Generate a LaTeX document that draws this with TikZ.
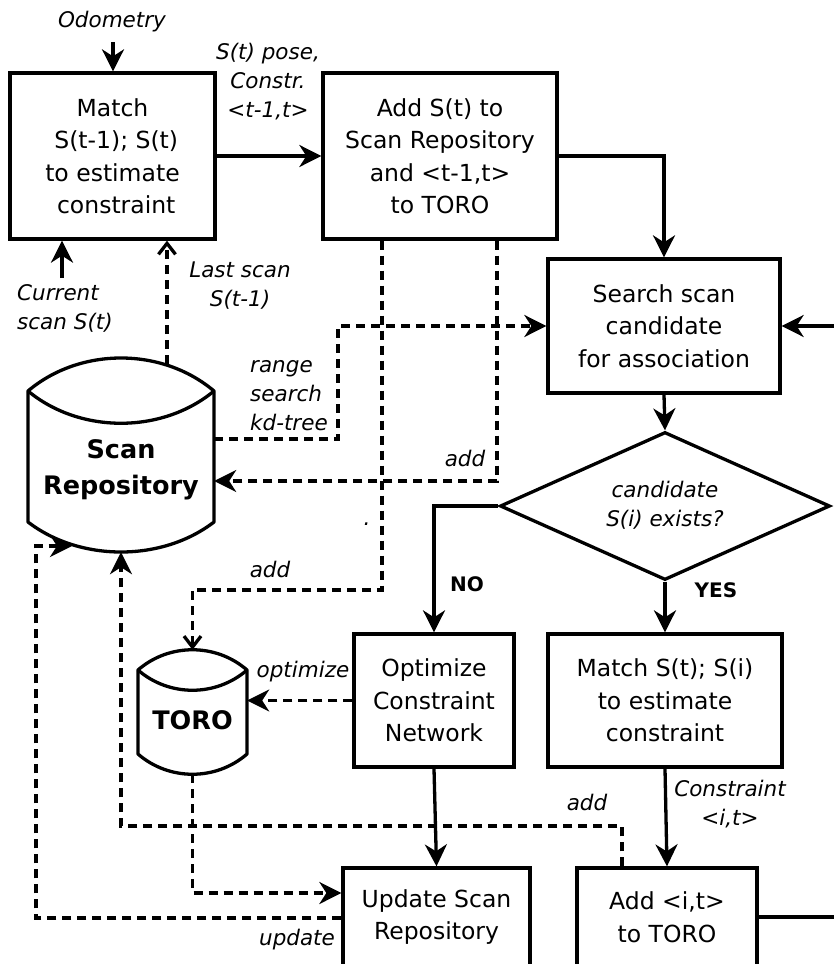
\documentclass[tikz,border=0pt]{standalone}
\usepackage{fontspec}
\setmainfont{DejaVu Sans}
\usetikzlibrary{arrows.meta,shapes.geometric,calc}

\newcommand\boxfont{\fontsize{23.5}{32.5}\selectfont}
\newcommand\lblfont{\fontsize{21.5}{29}\selectfont\itshape}
\newcommand\dbfont{\fontsize{25.5}{36}\selectfont\bfseries}
\newcommand\ynfont{\fontsize{20}{24}\selectfont\bfseries}

\begin{document}
\begin{tikzpicture}[x=1pt,y=-1pt,
  box/.style={draw, line width=3.3pt, rectangle, align=center, font=\boxfont, inner sep=0pt},
  lbl/.style={font=\lblfont, align=center, inner sep=0pt},
  yn/.style={font=\ynfont, inner sep=0pt},
  flow/.style={line width=3.3pt, -{Stealth[length=22pt,width=22pt,inset=7pt]}},
  dflow/.style={line width=3.3pt, dash pattern=on 9pt off 6pt, -{Stealth[length=22pt,width=22pt,inset=7pt]}},
  dopen/.style={line width=3.3pt, dash pattern=on 9pt off 6pt, -{Straight Barb[length=11pt,width=17pt]}},
  dbshape/.style={draw, line width=3.3pt, fill=white, line join=round},
  area/.style={inner sep=0pt, rectangle},
]
\useasboundingbox (0,0) rectangle (834,964);

% ---------- process boxes ----------
\node[box, minimum width=205pt, minimum height=166pt] (A) at (112.5,156)
  {Match\\\ S(t-1); S(t)\\to estimate\\\ constraint};
\node[box, minimum width=234pt, minimum height=166pt] (B) at (440,156)
  {Add S(t) to\\Scan Repository\\and <t-1,t>\\to TORO};
\node[box, minimum width=232pt, minimum height=134pt] (C) at (664,326)
  {Search scan\\candidate\\for association};
\node[diamond, draw, line width=3.3pt, minimum width=330pt, minimum height=148pt, inner sep=0pt] (dia) at (665,506) {};
\node[lbl] (diatxt) at (665,505) {candidate\\S(i) exists?};
\node[box, minimum width=160pt, minimum height=133pt] (D) at (434,700.5)
  {Optimize\\Constraint\\Network};
\node[box, minimum width=234pt, minimum height=133pt] (E) at (665,700.5)
  {Match S(t); S(i)\\to estimate\\constraint};
\node[box, minimum width=187pt, minimum height=98pt] (F) at (436.5,917)
  {Update Scan\\Repository};
\node[box, minimum width=180pt, minimum height=98pt] (G) at (667,917)
  {Add <i,t>\\to TORO};

% ---------- data stores (cylinders) ----------
\path[dbshape] (28,391) .. controls (80,347) and (162,347) .. (214,391)
  -- (214,522) .. controls (162,562) and (80,562) .. (28,522) -- cycle;
\draw[line width=3.3pt] (28,391) .. controls (80,434) and (162,434) .. (214,391);
\node[area, minimum width=186pt, minimum height=194pt] (repo) at (121,455) {};
\node[font=\dbfont, align=center, inner sep=0pt] (repotxt) at (121,470) {Scan\\Repository};

\path[dbshape] (138,670) .. controls (169,643) and (216,643) .. (247,670)
  -- (247,754) .. controls (216,781) and (169,781) .. (138,754) -- cycle;
\draw[line width=3.3pt] (138,670) .. controls (169,697) and (216,697) .. (247,670);
\node[area, minimum width=109pt, minimum height=124pt] (toro) at (192.5,712) {};
\node[font=\dbfont, inner sep=0pt] (torotxt) at (192.5,720) {TORO};

% ---------- free ends ----------
\coordinate (odoS) at (113,42);
\coordinate (curS) at (62,278);
\coordinate (lastS) at (167,364);
\coordinate (rin) at (840,326);
\coordinate (gout) at (840,917);
\coordinate (repoBL) at (72,546);

% ---------- solid flow ----------
\draw[flow] (odoS) -- (odoS |- A.north);
\draw[flow] (curS) -- (curS |- A.south);
\draw[flow] (A.east) -- (B.west);
\draw[flow] (B.east) -| (C.north);
\draw[flow] (rin) -- (C.east);
\draw[flow] (C.south) -- (dia.north);
\draw[flow] (dia.west) -| (D.north);
\draw[flow] (dia.south) -- (E.north);
\draw[flow] (D.south) -- (F.north);
\draw[flow] (E.south) -- (G.north);
\draw[line width=3.3pt] (G.east) -- (gout);

% ---------- data flow (dashed) ----------
\draw[dopen] (lastS) -- (lastS |- A.south);
\draw[dflow] (repo.east |- 0,439) -- (338,439) |- (C.west);
\draw[dflow] (B.south -| 497,0) |- (repo.east |- 0,481);
\draw[dopen] (B.south -| 382,0) -- (382,590) -| (toro.north);
\draw[dflow] (D.west) -- (D.west -| toro.east);
\draw[dflow] (G.north -| 622,0) -- (622,826) -| (repo.south);
\draw[dflow] (toro.south) |- (F.west |- 0,893);
\draw[dflow] (F.west |- 0,918) -| (36,546) -- (repoBL);

% ---------- labels ----------
\node[lbl] (odo) at (112,22) {Odometry};
\node[lbl] (pose) at (268,82) {S(t) pose,\\Constr.\\<t-1,t>};
\node[lbl] (last) at (240,286) {Last scan\\S(t-1)};
\node[lbl, align=left, anchor=west] (cur) at (17,308) {Current\\scan S(t)};
\node[lbl, align=left, anchor=west] (range) at (250,396) {range\\search\\kd-tree};
\node[lbl] (add1) at (465,458) {add};
\node[lbl] (dot) at (367,524) {.};
\node[lbl] (add2) at (270,569) {add};
\node[yn] (no) at (467,584) {NO};
\node[yn] (yes) at (716,590) {YES};
\node[lbl] (opt) at (303,672) {optimize};
\node[lbl] (add3) at (587,802) {add};
\node[lbl] (cons) at (730,804) {Constraint\\<i,t>};
\node[lbl] (upd) at (297,940) {update};
\end{tikzpicture}
\end{document}
